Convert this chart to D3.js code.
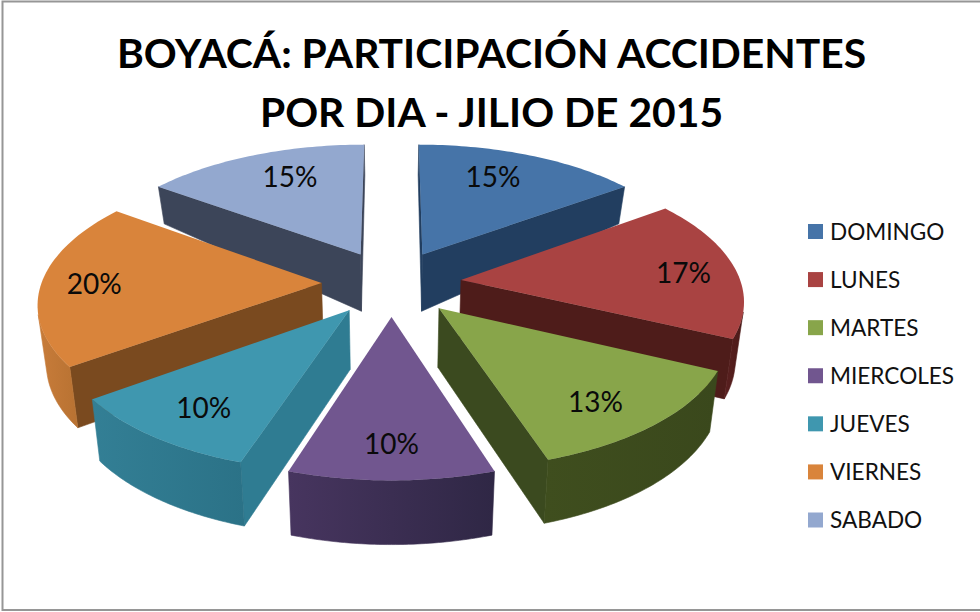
<!DOCTYPE html>
<html><head><meta charset="utf-8">
<script src="https://cdn.jsdelivr.net/npm/d3@7"></script>
<style>html,body{margin:0;padding:0;background:#fff}svg{display:block}text{font-family:Lato,"Open Sans",sans-serif}</style>
</head><body><svg id="c" width="980" height="612"></svg>
<script>
const titleLines = ["BOYACÁ: PARTICIPACIÓN ACCIDENTES", "POR DIA - JILIO DE 2015"];
const categories = ["DOMINGO","LUNES","MARTES","MIERCOLES","JUEVES","VIERNES","SABADO"];
const values = [15,17,13,10,10,20,15];
const topColors = ["#4674A8","#A94342","#88A54A","#71568F","#3F97AF","#D9843B","#93A8CF"];
const wallColors = ["#223E60","#4E1C1A","#3B4A1F","#3A2A50","#2F7C92","#7A4A1F","#3C4559"];
const rimFrom = ["#223E60","#5A2020","#3F4E1E","#47355F","#337F95","#C87C3A","#3C4559"];
const rimTo = ["#223E60","#4A1A18","#3A481C","#2F2745","#2B7287","#B87232","#3C4559"];
const labelRadius = [0.73,0.805,0.79,0.805,0.785,0.81,0.73];
const labelAngleShift = [-3.4,2,3.6,0,-1.2,-1,3.4];

const svg=d3.select("#c");
const defs=svg.append("defs");
svg.append("rect").attr("x",2.5).attr("y",1.5).attr("width",980).attr("height",608.5)
  .attr("fill","#fff").attr("stroke","#969696").attr("stroke-width",2);

// projection parameters
const cx=391.5, cy=283, R=280, explode=70, focal=2100, tilt=0.47, shrink=0.975;
const depthAt=d3.scaleLinear().domain([346,228,60,-115,-340]).range([30,37,57,60,64]);
const persp=z=>focal/(focal+z);
const topPt=(X,Z)=>{const s=persp(Z);return [cx+X*s, cy-tilt*Z*s];};
const botPt=(X,Z)=>{const p=topPt(X,Z);return [cx+(p[0]-cx)*shrink, p[1]+depthAt(Z)];};
const line=d3.line().curve(d3.curveLinear);
const area2=pts=>{let a=0;for(let i=0;i<pts.length;i++){const p=pts[i],q=pts[(i+1)%pts.length];a+=p[0]*q[1]-q[0]*p[1];}return a/2;};

const pie=d3.pie().sort(null)(values);
const slices=pie.map((d,i)=>{
  const mid=(d.startAngle+d.endAngle)/2;
  const ox=explode*Math.sin(mid), oz=explode*Math.cos(mid);
  const at=a=>[ox+R*Math.sin(a), oz+R*Math.cos(a)];
  return {i,d,mid,ox,oz,at};
}).sort((a,b)=>b.oz-a.oz);

slices.forEach(s=>{
  const g=svg.append("g");
  const n=48, angs=d3.range(n+1).map(k=>s.d.startAngle+(s.d.endAngle-s.d.startAngle)*k/n);
  const A=[s.ox,s.oz], P0=s.at(s.d.startAngle), P1=s.at(s.d.endAngle);
  // radial walls: keep only those that face the viewer
  [[A,P0],[P1,A]].forEach(([u,v])=>{
    const q=[topPt(...u),topPt(...v),botPt(...v),botPt(...u)];
    if(area2(q)>0) return;
    g.append("path").attr("d",line(q)+"Z").attr("fill",wallColors[s.i])
      .attr("stroke",wallColors[s.i]).attr("stroke-width",0.6);
  });
  // outer rim
  const vis=[];
  for(let k=0;k<n;k++){
    const a=s.at(angs[k]),b=s.at(angs[k+1]);
    const q=[topPt(...a),topPt(...b),botPt(...b),botPt(...a)];
    if(area2(q)<0) vis.push(k);
  }
  if(vis.length){
    const id="rim"+s.i;
    const gr=defs.append("linearGradient").attr("id",id);
    gr.append("stop").attr("offset",0).attr("stop-color",rimFrom[s.i]);
    gr.append("stop").attr("offset",1).attr("stop-color",rimTo[s.i]);
    const aa=d3.range(vis[0],vis[vis.length-1]+2).map(k=>s.at(angs[k]));
    const poly=aa.map(p=>topPt(...p)).concat(aa.slice().reverse().map(p=>botPt(...p)));
    g.append("path").attr("d",line(poly)+"Z").attr("fill",`url(#${id})`)
      .attr("stroke",`url(#${id})`).attr("stroke-width",0.6);
  }
  // top face
  const face=[topPt(...A)].concat(angs.map(a=>topPt(...s.at(a))));
  g.append("path").attr("d",line(face)+"Z").attr("fill",topColors[s.i]);
});

// percentage labels
pie.forEach((d,i)=>{
  const mid=(d.startAngle+d.endAngle)/2, ang=mid+labelAngleShift[i]*Math.PI/180;
  const X=explode*Math.sin(mid)+R*labelRadius[i]*Math.sin(ang);
  const Z=explode*Math.cos(mid)+R*labelRadius[i]*Math.cos(ang);
  const p=topPt(X,Z);
  svg.append("text").attr("x",p[0]).attr("y",p[1]).attr("dy","0.33em").attr("text-anchor","middle")
    .attr("font-size",28).attr("fill","#0a0a0a").text(d3.format(".0f")(d.value)+"%");
});

// title
svg.selectAll("text.t").data(titleLines).join("text").attr("class","t")
  .attr("x",491.5).attr("y",(d,i)=>68+i*59).attr("text-anchor","middle")
  .attr("font-size",40.8).attr("font-weight",700).attr("fill","#000").text(d=>d);

// legend
const ly=d3.scalePoint().domain(categories).range([231.5,520]);
categories.forEach((c,i)=>{
  svg.append("rect").attr("x",808).attr("y",ly(c)-7.5).attr("width",15).attr("height",15).attr("fill",topColors[i]);
  svg.append("text").attr("x",830).attr("y",ly(c)+8).attr("font-size",22.6).attr("fill","#111").text(c);
});
</script></body></html>
